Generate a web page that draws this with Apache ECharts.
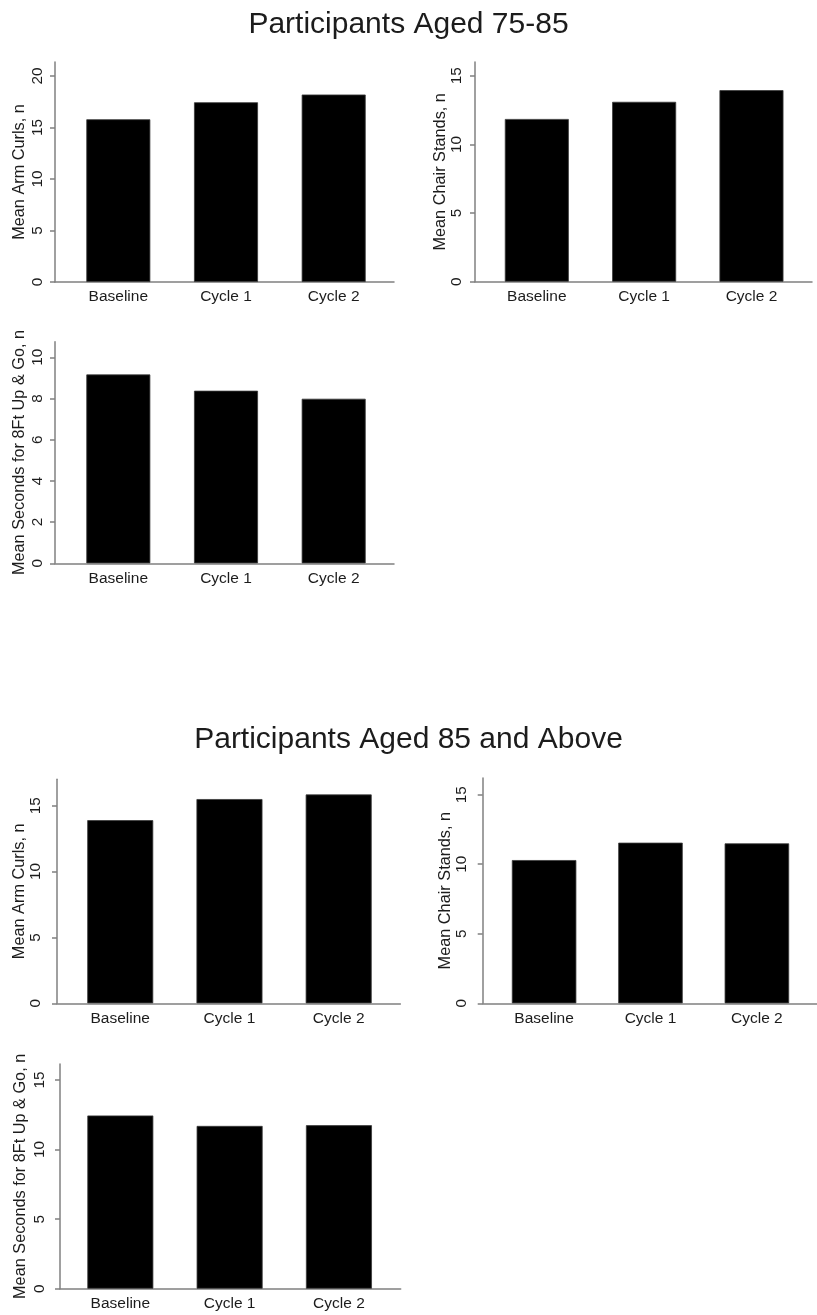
<!DOCTYPE html>
<html>
<head>
<meta charset="utf-8">
<script src="https://cdn.jsdelivr.net/npm/echarts@6/dist/echarts.min.js"></script>
<style>
  html, body { margin: 0; padding: 0; background: #ffffff; }
  #chart { width: 817px; height: 1315px; }
</style>
</head>
<body>
<div id="chart"></div>
<script>
// Functional fitness outcomes by assessment cycle, two age groups
const categories = ['Baseline', 'Cycle 1', 'Cycle 2'];

const armCurls7585 = [15.8, 17.45, 18.2];
const chairStands7585 = [11.85, 13.1, 13.95];
const upAndGo7585 = [9.17, 8.38, 7.99];

const armCurls85Plus = [13.9, 15.5, 15.85];
const chairStands85Plus = [10.3, 11.55, 11.5];
const upAndGo85Plus = [12.45, 11.7, 11.75];

const ticksTo20 = [0, 5, 10, 15, 20];
const ticksTo15 = [0, 5, 10, 15];
const ticksTo10 = [0, 2, 4, 6, 8, 10];

const groupTitles = ['Participants Aged 75-85', 'Participants Aged 85 and Above'];

const nameArm = 'Mean Arm Curls, n';
const nameChair = 'Mean Chair Stands, n';
const nameUpGo = 'Mean Seconds for 8Ft Up & Go, n';

// panel layout: plot box in pixels, axis extents, label spacing
const panels = [
  { values: armCurls7585, name: nameArm, ticks: ticksTo20, yMax: 21.36,
    left: 55, top: 62, width: 339, height: 220, xMin: 0.412, xMax: 3.56, barWidth: 64, labelGap: 9.5, nameGap: 27 },
  { values: chairStands7585, name: nameChair, ticks: ticksTo15, yMax: 16.0,
    left: 475, top: 62, width: 337, height: 219.7, xMin: 0.424, xMax: 3.564, barWidth: 64, labelGap: 10.5, nameGap: 24 },
  { values: upAndGo7585, name: nameUpGo, ticks: ticksTo10, yMax: 10.76,
    left: 55, top: 341.7, width: 339, height: 221.6, xMin: 0.412, xMax: 3.56, barWidth: 64, labelGap: 9.5, nameGap: 27 },
  { values: armCurls85Plus, name: nameArm, ticks: ticksTo15, yMax: 17.0,
    left: 57, top: 779.3, width: 343.4, height: 224, xMin: 0.421, xMax: 3.565, barWidth: 66, labelGap: 13.5, nameGap: 29 },
  { values: chairStands85Plus, name: nameChair, ticks: ticksTo15, yMax: 16.2,
    left: 482.7, top: 778, width: 342.2, height: 225.3, xMin: 0.423, xMax: 3.565, barWidth: 64.5, labelGap: 13.5, nameGap: 29 },
  { values: upAndGo85Plus, name: nameUpGo, ticks: ticksTo15, yMax: 16.15,
    left: 60, top: 1064, width: 340.7, height: 224.7, xMin: 0.448, xMax: 3.565, barWidth: 66, labelGap: 12.5, nameGap: 31 }
];

const FONT = '"Liberation Sans", Arial, Helvetica, sans-serif';
const AXIS_GRAY = '#808080';
const TEXT = '#1c1c1c';

const grids = [], xAxes = [], yAxes = [], series = [];
panels.forEach((p, i) => {
  grids.push({ left: p.left, top: p.top, width: p.width, height: p.height, containLabel: false });
  xAxes.push({
    type: 'value', gridIndex: i, min: p.xMin, max: p.xMax,
    axisLine: { show: true, onZero: false, lineStyle: { color: AXIS_GRAY, width: 1.5 } },
    axisTick: { show: false },
    splitLine: { show: false },
    axisLabel: {
      customValues: [1, 2, 3],
      formatter: v => categories[Math.round(v) - 1] || '',
      color: TEXT, fontSize: 15.5, fontFamily: FONT, margin: 7
    }
  });
  yAxes.push({
    type: 'value', gridIndex: i, min: 0, max: p.yMax,
    name: p.name, nameLocation: 'middle', nameGap: p.nameGap,
    nameTextStyle: { color: TEXT, fontSize: 16.3, fontFamily: FONT },
    axisLine: { show: true, lineStyle: { color: AXIS_GRAY, width: 1.5 } },
    axisTick: { show: true, customValues: p.ticks, length: 5, lineStyle: { color: AXIS_GRAY, width: 1.5 } },
    splitLine: { show: false },
    axisLabel: {
      customValues: p.ticks, rotate: 90, margin: p.labelGap,
      color: TEXT, fontSize: 15.3, fontFamily: FONT
    }
  });
  series.push({
    type: 'bar', xAxisIndex: i, yAxisIndex: i,
    barWidth: p.barWidth,
    data: p.values.map((v, k) => [k + 1, v]),
    itemStyle: { color: '#000000', borderColor: '#3a3a3a', borderWidth: 0.8 },
    silent: true, animation: false
  });
});

const chart = echarts.init(document.getElementById('chart'), null, { renderer: 'canvas' });
chart.setOption({
  backgroundColor: '#ffffff',
  animation: false,
  title: [
    { text: groupTitles[0], left: 'center', top: 5,
      textStyle: { color: TEXT, fontSize: 30, fontWeight: 'normal', fontFamily: FONT } },
    { text: groupTitles[1], left: 'center', top: 720,
      textStyle: { color: TEXT, fontSize: 30, fontWeight: 'normal', fontFamily: FONT } }
  ],
  grid: grids,
  xAxis: xAxes,
  yAxis: yAxes,
  series: series
});
</script>
</body>
</html>
